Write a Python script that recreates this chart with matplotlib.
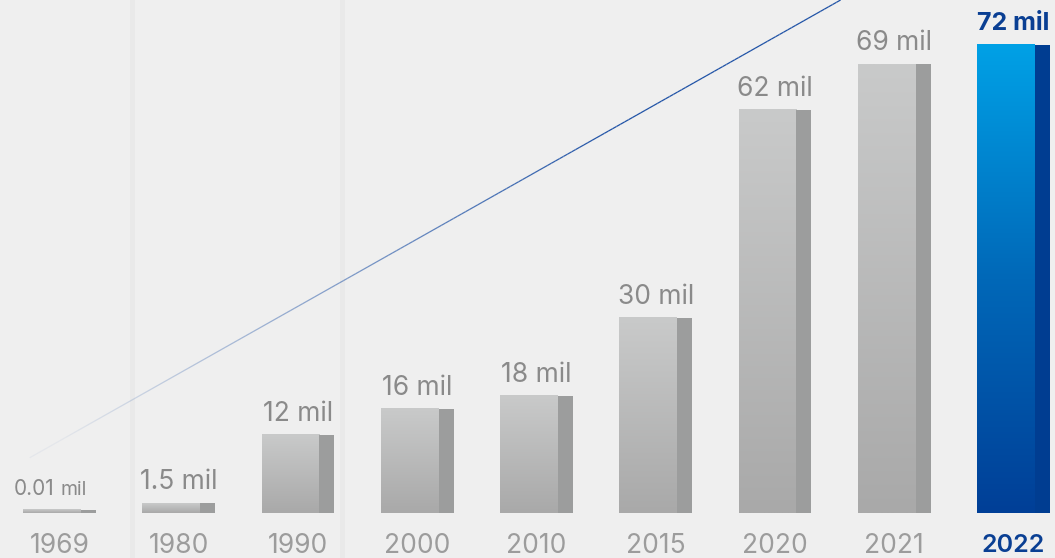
import numpy as np
import matplotlib
matplotlib.use("Agg")
import matplotlib.pyplot as plt
from matplotlib.collections import LineCollection
from matplotlib.colors import LinearSegmentedColormap

years = ["1969", "1980", "1990", "2000", "2010", "2015", "2020", "2021", "2022"]
values = [0.01, 1.5, 12, 16, 18, 30, 62, 69, 72]
value_labels = ["0.01 mil", "1.5 mil", "12 mil", "16 mil", "18 mil", "30 mil", "62 mil", "69 mil", "72 mil"]

plt.rcParams['font.family'] = ['Inter', 'DejaVu Sans']

fig = plt.figure(figsize=(10.55, 5.58), dpi=100)
fig.patch.set_facecolor("#efefef")
ax = fig.add_axes([0, 0, 1, 1])
ax.set_facecolor("#efefef")
ax.set_xlim(-0.499, 8.348)
ax.set_ylim(-6.92, 78.9)
ax.axis("off")

# faint background stripes
for xf in [0.123, 0.322]:
    ax.axvspan(xf * 8.847 - 0.499, xf * 8.847 - 0.499 + 0.045, color="#e9e9e9", zorder=0, lw=0)

# decorative diagonal line
t = np.linspace(0, 1, 200)
x0, y0 = -0.25, 8.5
x1, y1 = 6.55, 78.9
xs = x0 + (x1 - x0) * t
ys = y0 + (y1 - y0) * t
pts = np.column_stack([xs, ys]).reshape(-1, 1, 2)
segs = np.concatenate([pts[:-1], pts[1:]], axis=1)
alphas = np.clip(t[:-1] * 1.4, 0.05, 1)
cols = [(0.12, 0.32, 0.65, a) for a in alphas]
lc = LineCollection(segs, colors=cols, linewidths=0.9, zorder=1)
ax.add_collection(lc)

gray_cmap = LinearSegmentedColormap.from_list("g", ["#a9a9a9", "#c9caca"])
blue_cmap = LinearSegmentedColormap.from_list("b", ["#003f97", "#0068b8", "#00a1e6"])
grad = np.linspace(0, 1, 256).reshape(-1, 1)

front_l, front_r = -0.306, 0.180
side_r = 0.306
min_h = 0.5

for i, (v, yr, lab) in enumerate(zip(values, years, value_labels)):
    h = max(v, min_h)
    last = (i == len(values) - 1)
    cmap = blue_cmap if last else gray_cmap
    side_col = "#003d91" if last else "#9c9d9d"
    ax.imshow(grad, cmap=cmap, origin="lower", aspect="auto",
              extent=[i + front_l, i + front_r, 0, h], zorder=2, interpolation="bilinear")
    ax.add_patch(plt.Rectangle((i + front_r, 0), side_r - front_r, h,
                               facecolor=side_col, edgecolor="none", zorder=2))
    if last:
        ax.annotate(lab, (i, h), xytext=(0, 7), textcoords="offset points",
                    ha="center", va="bottom", fontsize=18, fontweight="bold", color="#0a3f93")
        ax.text(i, -5.0, yr, ha="center", va="center", fontsize=18,
                fontweight="semibold", color="#0a3f93")
    else:
        if i == 0:
            ax.annotate("0.01", (i - 0.045, h), xytext=(0, 8), textcoords="offset points",
                        ha="right", va="bottom", fontsize=15, color="#8a8a8a")
            ax.annotate("mil", (i + 0.01, h), xytext=(0, 8), textcoords="offset points",
                        ha="left", va="bottom", fontsize=14, color="#8a8a8a")
        else:
            ax.annotate(lab, (i, h), xytext=(0, 6), textcoords="offset points",
                        ha="center", va="bottom", fontsize=19, color="#8a8a8a")
        ax.text(i, -5.0, yr, ha="center", va="center", fontsize=19, color="#9c9c9c")

fig.savefig("out.png", dpi=100, facecolor=fig.get_facecolor())
